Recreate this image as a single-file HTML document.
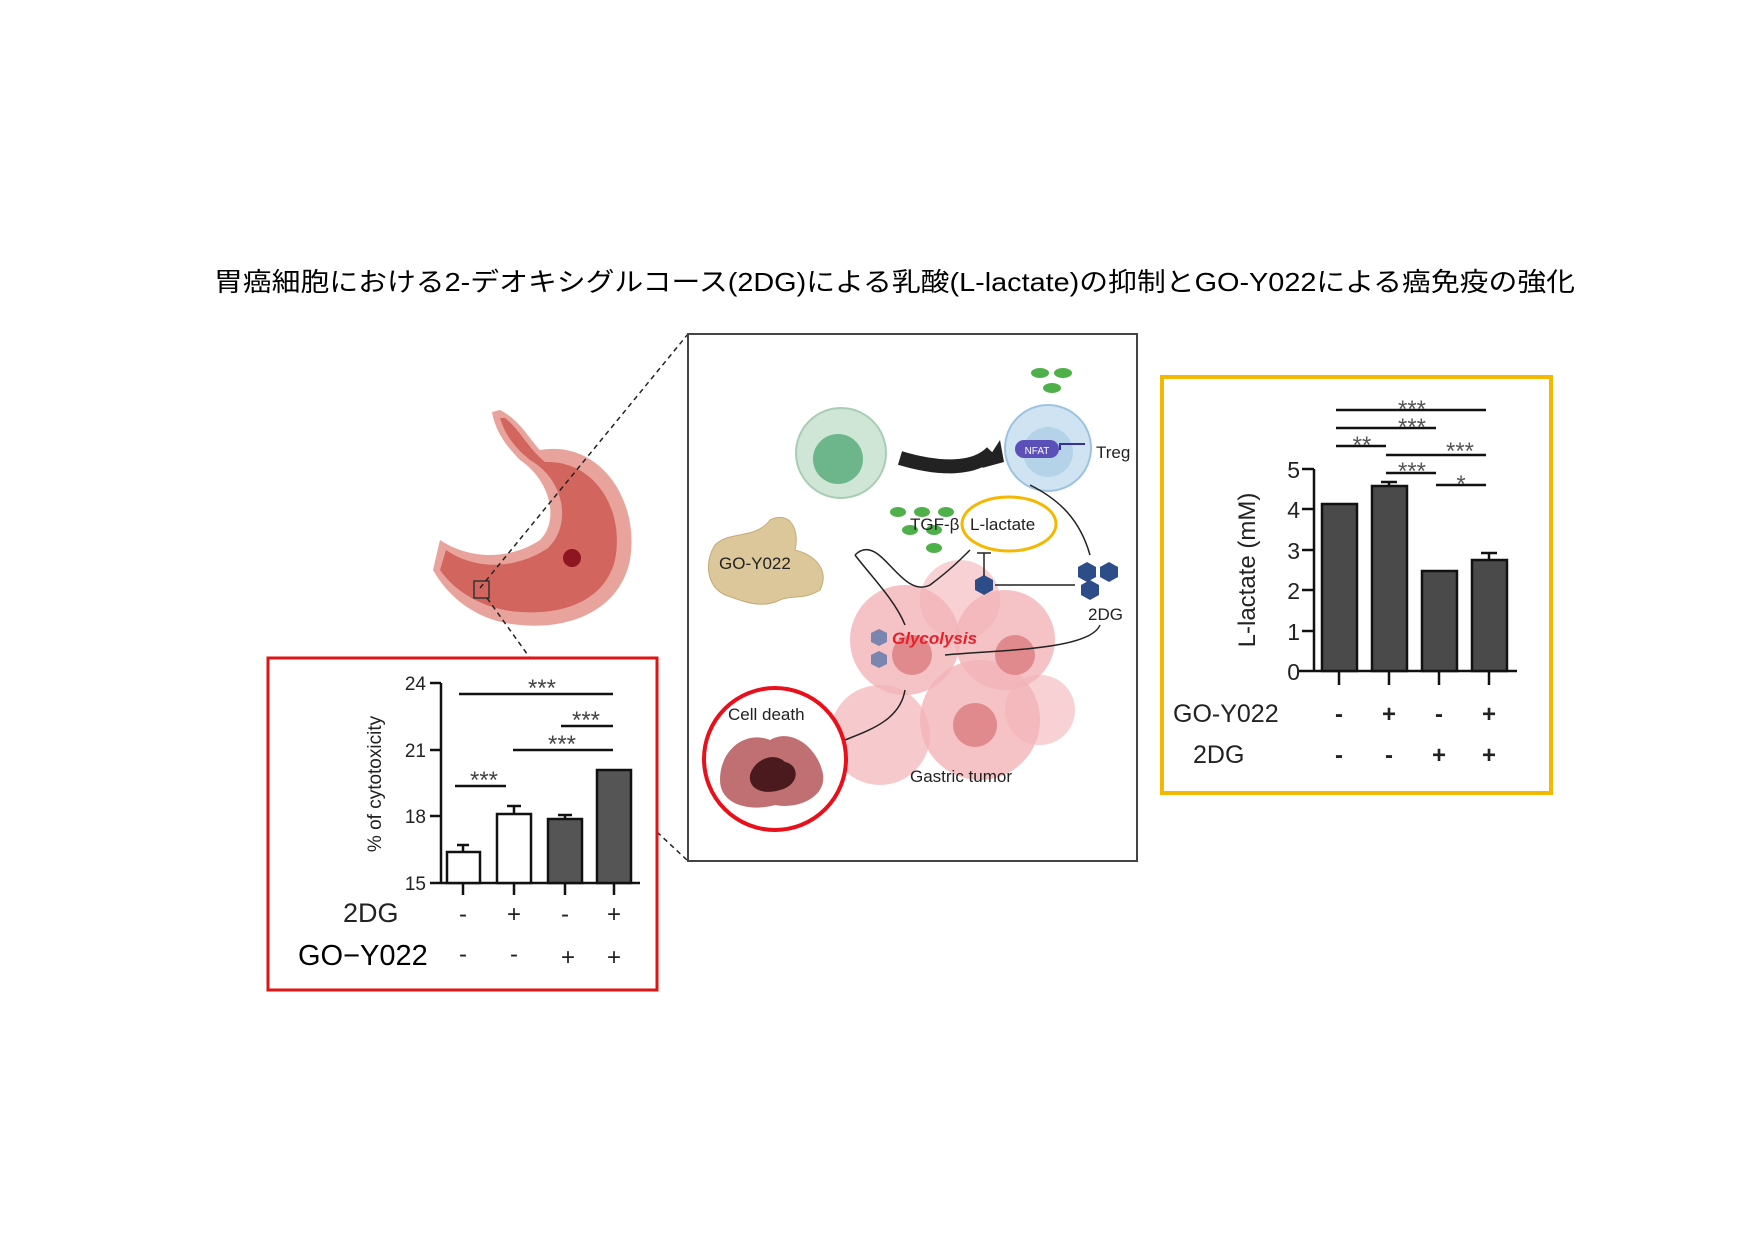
<!DOCTYPE html>
<html><head><meta charset="utf-8"><style>
html,body{margin:0;padding:0;background:#fff;}
svg{display:block;}
text{font-family:"Liberation Sans","Noto Sans CJK JP",sans-serif;}
</style></head><body>
<svg width="1755" height="1240" viewBox="0 0 1755 1240" xmlns="http://www.w3.org/2000/svg">
<rect width="1755" height="1240" fill="#fff"/>
<text x="214" y="291" font-size="26" textLength="1361" lengthAdjust="spacingAndGlyphs" font-family="IPAGothic,'Noto Sans CJK JP',sans-serif" fill="#000">胃癌細胞における2-デオキシグルコース(2DG)による乳酸(L-lactate)の抑制とGO-Y022による癌免疫の強化</text>

<!-- stomach -->
<g>
<path d="M500,410 C520,420 530,440 540,450 C600,440 640,500 630,560 C620,610 570,630 520,625 C480,622 450,600 433,570 L440,540 C470,560 510,560 540,540 C560,520 550,480 520,460 C505,445 495,430 492,412 Z" fill="#e8a49c"/>
<path d="M505,418 C520,430 528,448 545,462 C595,460 625,510 615,560 C605,600 565,615 520,612 C485,610 455,592 440,570 L446,550 C475,570 515,570 548,548 C572,525 565,480 530,460 C515,448 505,435 500,418 Z" fill="#d2665e"/>
<circle cx="572" cy="558" r="9" fill="#8e1620"/>
<rect x="474" y="581" width="15" height="17" fill="none" stroke="#333" stroke-width="1.5"/>
</g>
<g stroke="#222" stroke-width="1.5" stroke-dasharray="5,4" fill="none">
<line x1="480" y1="588" x2="688" y2="334"/>
<line x1="487" y1="598" x2="530" y2="658"/>
<line x1="657" y1="832" x2="688" y2="861"/>
</g>

<!-- center panel -->
<rect x="688" y="334" width="449" height="527" fill="#fff" stroke="#444" stroke-width="2"/>
<circle cx="841" cy="453" r="45" fill="#cfe6d6" stroke="#a8cdb4" stroke-width="2"/>
<circle cx="838" cy="459" r="25" fill="#6db58a"/>
<path d="M900,458 C940,470 975,470 992,452" stroke="#222" stroke-width="14" fill="none"/>
<polygon points="1000,440 982,468 1004,462" fill="#222"/>
<circle cx="1048" cy="448" r="43" fill="#cfe3f2" stroke="#9cc3e0" stroke-width="2"/>
<circle cx="1048" cy="452" r="25" fill="#b4d2e8"/>
<rect x="1015" y="440" width="44" height="18" rx="9" fill="#5b4fb8"/>
<text x="1037" y="454" font-size="10" fill="#fff" text-anchor="middle">NFAT</text>
<path d="M1060,450 L1060,444 L1085,444" stroke="#3a2f9a" stroke-width="2" fill="none"/>
<text x="1096" y="458" font-size="17" fill="#222">Treg</text>
<g fill="#4fb04a">
<ellipse cx="1040" cy="373" rx="9" ry="5"/><ellipse cx="1063" cy="373" rx="9" ry="5"/><ellipse cx="1052" cy="388" rx="9" ry="5"/>
<ellipse cx="898" cy="512" rx="8" ry="5"/><ellipse cx="922" cy="512" rx="8" ry="5"/><ellipse cx="946" cy="512" rx="8" ry="5"/>
<ellipse cx="910" cy="530" rx="8" ry="5"/><ellipse cx="934" cy="530" rx="8" ry="5"/><ellipse cx="934" cy="548" rx="8" ry="5"/>
</g>
<!-- ginger -->
<path d="M715,545 C730,530 755,540 770,520 C790,510 800,530 795,550 C815,555 830,570 820,590 C805,600 790,595 780,600 C760,610 740,600 725,595 C705,585 705,560 715,545 Z" fill="#dcc79a" stroke="#c4ac78"/>
<text x="719" y="569" font-size="17" fill="#222">GO-Y022</text>
<!-- tumor -->
<g fill="#f2b3b6">
<circle cx="905" cy="640" r="55" opacity="0.8"/><circle cx="1005" cy="640" r="50" opacity="0.8"/>
<circle cx="980" cy="720" r="60" opacity="0.8"/><circle cx="880" cy="735" r="50" opacity="0.7"/>
<circle cx="960" cy="600" r="40" opacity="0.6"/><circle cx="1040" cy="710" r="35" opacity="0.6"/>
</g>
<g fill="#e08a8e"><circle cx="912" cy="655" r="20"/><circle cx="1015" cy="655" r="20"/><circle cx="975" cy="725" r="22"/></g>
<text x="892" y="644" font-size="17" font-weight="bold" font-style="italic" fill="#e8202a">Glycolysis</text>
<text x="910" y="782" font-size="17" fill="#222">Gastric tumor</text>
<g fill="#7a86b0"><polygon points="871,633 879,629 887,633 887,642 879,646 871,642"/><polygon points="871,655 879,651 887,655 887,664 879,668 871,664"/></g>
<ellipse cx="1009" cy="524" rx="47" ry="27" fill="#fff" stroke="#f5b800" stroke-width="3"/>
<text x="910" y="530" font-size="17" fill="#222">TGF-β</text>
<text x="970" y="530" font-size="17" fill="#222">L-lactate</text>
<g fill="#2c4d88">
<polygon points="1078,567 1087,562 1096,567 1096,577 1087,582 1078,577"/>
<polygon points="1100,567 1109,562 1118,567 1118,577 1109,582 1100,577"/>
<polygon points="1081,585 1090,580 1099,585 1099,595 1090,600 1081,595"/>
<polygon points="975,580 984,575 993,580 993,590 984,595 975,590"/>
</g>
<text x="1088" y="620" font-size="17" fill="#222">2DG</text>
<g stroke="#222" stroke-width="1.5" fill="none">
<line x1="995" y1="585" x2="1075" y2="585"/>
<line x1="984" y1="576" x2="984" y2="553"/><line x1="977" y1="553" x2="991" y2="553"/>
<path d="M1090,555 C1080,520 1060,500 1030,485"/>
<path d="M855,555 C880,530 900,600 930,585 C950,570 960,560 970,550"/>
<path d="M855,555 C870,575 895,600 905,625"/>
<path d="M1100,625 C1090,650 1000,650 945,655"/>
<path d="M905,690 C900,720 870,730 845,740"/>
</g>
<circle cx="775" cy="759" r="71" fill="#fff" stroke="#e8101a" stroke-width="4"/>
<path d="M720,780 C720,750 745,730 770,740 C790,728 815,745 822,770 C830,795 800,810 775,805 C750,812 720,805 720,780 Z" fill="#c07072"/>
<path d="M750,775 C755,758 775,752 785,762 C800,765 800,785 780,790 C765,795 748,790 750,775 Z" fill="#4a1a1e"/>
<text x="728" y="720" font-size="17" fill="#222">Cell death</text>

<!-- red chart -->
<rect x="268" y="658" width="389" height="332" fill="#fff" stroke="#e01414" stroke-width="3"/>
<g stroke="#111" stroke-width="2.5" fill="none">
<line x1="441" y1="683" x2="441" y2="884"/><line x1="441" y1="883" x2="640" y2="883"/>
<line x1="430" y1="683" x2="441" y2="683"/><line x1="430" y1="750" x2="441" y2="750"/><line x1="430" y1="816" x2="441" y2="816"/><line x1="430" y1="883" x2="441" y2="883"/>
<line x1="463" y1="883" x2="463" y2="895"/><line x1="514" y1="883" x2="514" y2="895"/><line x1="565" y1="883" x2="565" y2="895"/><line x1="614" y1="883" x2="614" y2="895"/>
<line x1="459" y1="694" x2="613" y2="694"/><line x1="561" y1="726" x2="613" y2="726"/><line x1="513" y1="750" x2="613" y2="750"/><line x1="455" y1="786" x2="506" y2="786"/>
<line x1="463" y1="852" x2="463" y2="845"/><line x1="457" y1="845" x2="469" y2="845"/>
<line x1="514" y1="814" x2="514" y2="806"/><line x1="507" y1="806" x2="521" y2="806"/>
<line x1="565" y1="819" x2="565" y2="815"/><line x1="558" y1="815" x2="572" y2="815"/>
</g>
<rect x="447" y="852" width="33" height="31" fill="#fff" stroke="#111" stroke-width="2.5"/>
<rect x="497" y="814" width="34" height="69" fill="#fff" stroke="#111" stroke-width="2.5"/>
<rect x="548" y="819" width="34" height="64" fill="#555" stroke="#111" stroke-width="2.5"/>
<rect x="597" y="770" width="34" height="113" fill="#555" stroke="#111" stroke-width="2.5"/>
<g font-size="19" fill="#222" text-anchor="end"><text x="426" y="690">24</text><text x="426" y="757">21</text><text x="426" y="823">18</text><text x="426" y="890">15</text></g>
<g font-size="24" fill="#444" text-anchor="middle"><text x="542" y="696">***</text><text x="586" y="728">***</text><text x="562" y="752">***</text><text x="484" y="788">***</text></g>
<text transform="translate(381,784) rotate(-90)" font-size="19" fill="#222" text-anchor="middle">% of cytotoxicity</text>
<text x="343" y="922" font-size="27" fill="#222">2DG</text>
<text x="298" y="965" font-size="29" fill="#000" font-family="IPAGothic,'Noto Sans CJK JP',sans-serif">GO−Y022</text>
<g font-size="24" fill="#222" text-anchor="middle"><text x="463" y="922">-</text><text x="514" y="922">+</text><text x="565" y="922">-</text><text x="614" y="922">+</text>
<text x="463" y="962">-</text><text x="514" y="962">-</text><text x="568" y="965">+</text><text x="614" y="965">+</text></g>

<!-- yellow chart -->
<rect x="1162" y="377" width="389" height="416" fill="#fff" stroke="#f5b800" stroke-width="4"/>
<g stroke="#111" stroke-width="2.5" fill="none">
<line x1="1314" y1="469" x2="1314" y2="672"/><line x1="1298" y1="671" x2="1517" y2="671"/>
<line x1="1302" y1="469" x2="1314" y2="469"/><line x1="1302" y1="509" x2="1314" y2="509"/><line x1="1302" y1="550" x2="1314" y2="550"/><line x1="1302" y1="590" x2="1314" y2="590"/><line x1="1302" y1="631" x2="1314" y2="631"/>
<line x1="1339" y1="671" x2="1339" y2="685"/><line x1="1389" y1="671" x2="1389" y2="685"/><line x1="1439" y1="671" x2="1439" y2="685"/><line x1="1489" y1="671" x2="1489" y2="685"/>
<line x1="1336" y1="410" x2="1486" y2="410"/><line x1="1336" y1="428" x2="1436" y2="428"/><line x1="1336" y1="446" x2="1386" y2="446"/><line x1="1386" y1="455" x2="1486" y2="455"/><line x1="1386" y1="473" x2="1436" y2="473"/><line x1="1436" y1="485" x2="1486" y2="485"/>
<line x1="1389" y1="486" x2="1389" y2="482"/><line x1="1381" y1="482" x2="1397" y2="482"/>
<line x1="1489" y1="560" x2="1489" y2="553"/><line x1="1481" y1="553" x2="1497" y2="553"/>
</g>
<rect x="1322" y="504" width="35" height="167" fill="#4a4a4a" stroke="#111" stroke-width="2.5"/>
<rect x="1372" y="486" width="35" height="185" fill="#4a4a4a" stroke="#111" stroke-width="2.5"/>
<rect x="1422" y="571" width="35" height="100" fill="#4a4a4a" stroke="#111" stroke-width="2.5"/>
<rect x="1472" y="560" width="35" height="111" fill="#4a4a4a" stroke="#111" stroke-width="2.5"/>
<g font-size="23" fill="#222" text-anchor="end"><text x="1300" y="478">5</text><text x="1300" y="518">4</text><text x="1300" y="559">3</text><text x="1300" y="599">2</text><text x="1300" y="640">1</text><text x="1300" y="680">0</text></g>
<g font-size="24" fill="#555" text-anchor="middle"><text x="1412" y="417">***</text><text x="1412" y="435">***</text><text x="1362" y="453">**</text><text x="1460" y="459">***</text><text x="1412" y="479">***</text><text x="1461" y="492">*</text></g>
<text transform="translate(1255,570) rotate(-90)" font-size="24" fill="#222" text-anchor="middle">L-lactate (mM)</text>
<text x="1173" y="722" font-size="25" fill="#222">GO-Y022</text>
<text x="1193" y="763" font-size="25" fill="#222">2DG</text>
<g font-size="24" font-weight="bold" fill="#222" text-anchor="middle"><text x="1339" y="722">-</text><text x="1389" y="722">+</text><text x="1439" y="722">-</text><text x="1489" y="722">+</text>
<text x="1339" y="763">-</text><text x="1389" y="763">-</text><text x="1439" y="763">+</text><text x="1489" y="763">+</text></g>
</svg>
</body></html>
